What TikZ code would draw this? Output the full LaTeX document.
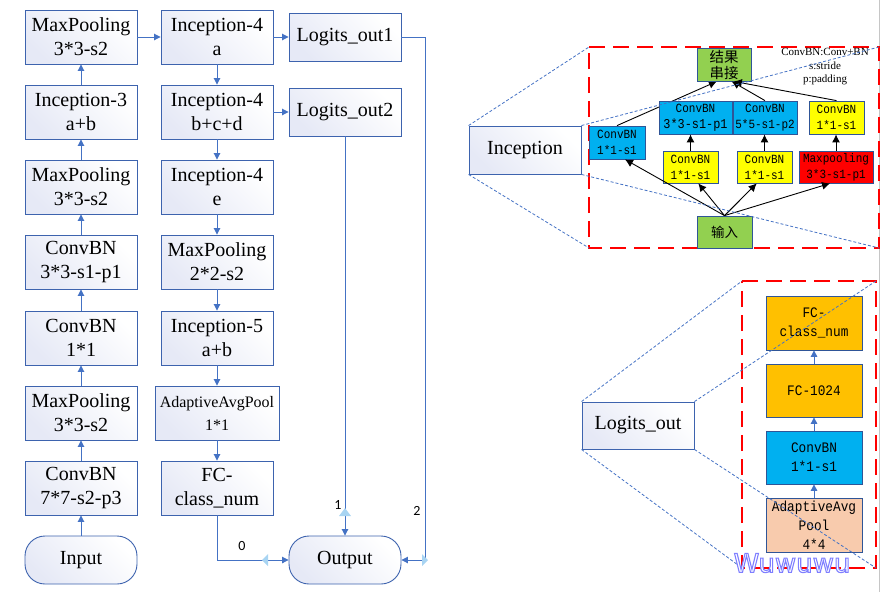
\documentclass[tikz,border=0pt]{standalone}
\usepackage{fontspec}
\setmainfont{Liberation Serif}
\newfontfamily\monof[FakeStretch=0.88]{Liberation Mono}
\newfontfamily\cjkf{Noto Sans CJK SC}
\newfontfamily\sansf{Carlito}
\newfontfamily\wmf{DejaVu Sans}
\usetikzlibrary{arrows.meta,calc}
\definecolor{lnblue}{HTML}{4472C4}
\definecolor{bdblue}{HTML}{2F5597}
\definecolor{mbblue}{HTML}{3D63AE}
\definecolor{gradb}{HTML}{E6E9F6}
\definecolor{cyanb}{HTML}{00B0F0}
\definecolor{yel}{HTML}{FFFF00}
\definecolor{grn}{HTML}{92D050}
\definecolor{org}{HTML}{FFC000}
\definecolor{peach}{HTML}{F8CBAD}
\definecolor{handle}{HTML}{A8D4F2}
\definecolor{wmc}{HTML}{7F7FFF}
\pgfdeclarelayer{bg}
\pgfsetlayers{bg,main}
\tikzset{
  box/.style={draw=mbblue, line width=0.9pt, top color=white, bottom color=gradb, shading angle=-45,
    minimum width=112pt, minimum height=54pt, inner sep=0pt, align=center,
    font=\fontsize{20}{24}\selectfont},
  rbox/.style={box, minimum height=48pt, rounded corners=20pt},
  arr/.style={draw=lnblue, line width=0.9pt, -{Triangle[length=6.5pt,width=6.5pt]}},
  barr/.style={draw=black, line width=0.9pt, -{Latex[length=8pt,width=8pt]}},
  mbox/.style={draw=bdblue, line width=0.8pt, inner sep=0pt, align=center,
    font=\monof\fontsize{12.5}{16}\selectfont},
  lbox/.style={draw=bdblue, line width=0.8pt, minimum width=96pt, inner sep=0pt, align=center,
    font=\monof\fontsize{14.5}{19}\selectfont},
  reddash/.style={draw=red, line width=2.8pt, dash pattern=on 16pt off 8pt},
  zoomdash/.style={draw=lnblue, line width=0.8pt, dash pattern=on 3pt off 2pt},
  lbl/.style={font=\sansf\fontsize{14}{14}\selectfont, inner sep=0pt},
}
\begin{document}
\begin{tikzpicture}[x=1pt,y=-1pt]
\useasboundingbox (0,0) rectangle (882,592);
% page edge line and red dashed frames
\coordinate (gtop) at (879.5,0);
\coordinate (gbot) at (879.5,592);
\coordinate (ia) at (589,47);
\coordinate (ib) at (879,47);
\coordinate (ic) at (879,248);
\coordinate (id) at (589,248);
\coordinate (la) at (742,281);
\coordinate (lb) at (876,281);
\coordinate (lc) at (876,568);
\coordinate (ld) at (742,568);
\begin{pgfonlayer}{bg}
\draw[gray!45, line width=1.5pt] (gtop) -- (gbot);
\draw[reddash] (ia) -- (ib) -- (ic) -- (id) -- cycle;
\draw[reddash] (la) -- (lb) -- (lc) -- (ld) -- cycle;
\end{pgfonlayer}

% column 1
\node[box] (mp1) at (81,37) {MaxPooling\\3*3-s2};
\node[box] (inc3) at (81,112) {Inception-3\\a+b};
\node[box] (mp2) at (81,187) {MaxPooling\\3*3-s2};
\node[box] (cbn3) at (81,262) {ConvBN\\3*3-s1-p1};
\node[box] (cbn1) at (81,338) {ConvBN\\1*1};
\node[box] (mp3) at (81,413) {MaxPooling\\3*3-s2};
\node[box] (cbn7) at (81,488) {ConvBN\\7*7-s2-p3};
\node[rbox] (input) at (81,560) {Input};
% column 2
\node[box] (i4a) at (217,37) {Inception-4\\a};
\node[box] (i4b) at (217,112) {Inception-4\\b+c+d};
\node[box] (i4e) at (217,187) {Inception-4\\e};
\node[box] (mp4) at (217,262) {MaxPooling\\2*2-s2};
\node[box] (i5) at (217,338) {Inception-5\\a+b};
\node[box, minimum width=124pt, font=\fontsize{16}{23}\selectfont] (aap) at (217,413) {AdaptiveAvgPool\\1*1};
\node[box] (fc) at (217,488) {FC-\\class\_num};
% column 3
\node[box, minimum height=48pt] (lo1) at (345,37) {Logits\_out1};
\node[box, minimum height=48pt] (lo2) at (345,112) {Logits\_out2};
\node[rbox] (output) at (345,560) {Output};

% arrows col1
\draw[arr] (input) -- (cbn7);
\draw[arr] (cbn7) -- (mp3);
\draw[arr] (mp3) -- (cbn1);
\draw[arr] (cbn1) -- (cbn3);
\draw[arr] (cbn3) -- (mp2);
\draw[arr] (mp2) -- (inc3);
\draw[arr] (inc3) -- (mp1);
\draw[arr] (mp1) -- (i4a);
% col2
\draw[arr] (i4a) -- (i4b);
\draw[arr] (i4b) -- (i4e);
\draw[arr] (i4e) -- (mp4);
\draw[arr] (mp4) -- (i5);
\draw[arr] (i5) -- (aap);
\draw[arr] (aap) -- (fc);
\draw[arr] (i4a) -- (lo1);
\draw[arr] (i4b) -- (lo2);
% to output
\coordinate (c2) at (425,560);
\draw[arr] (lo1.east) -| (c2) -- (output.east);
\draw[arr] (lo2.south) -- (output.north);
\draw[arr] (fc.south) |- (output.west);
\node[lbl] (l0) at (242,546) {0};
\node[lbl] (l1) at (338,505) {1};
\node[lbl] (l2) at (417,511) {2};
% glue handles
\fill[handle] (339,516) -- (351,516) -- (345,508) -- cycle;
\fill[handle] (268,554) -- (268,566) -- (262,560) -- cycle;
\fill[handle] (422,554) -- (422,566) -- (428,560) -- cycle;

% Inception detail
\node[box, minimum height=48pt] (incep) at (525,150) {Inception};
\node[mbox, fill=grn, minimum width=54pt, minimum height=33pt, font=\cjkf\fontsize{14.5}{16}\selectfont] (concat) at (724,64.5) {结果\\串接};
\node[mbox, fill=cyanb, minimum width=56pt, minimum height=33pt] (b1) at (617,142.5) {ConvBN\\1*1-s1};
\node[mbox, fill=cyanb, minimum width=73pt, minimum height=33pt] (b3) at (695.5,117.5) {ConvBN\\{\fontsize{13.5}{16}\selectfont 3*3-s1-p1}};
\node[mbox, fill=cyanb, minimum width=64pt, minimum height=33pt] (b5) at (765,117.5) {ConvBN\\5*5-s1-p2};
\node[mbox, fill=yel, minimum width=55pt, minimum height=33pt] (y4) at (836.5,117.5) {ConvBN\\1*1-s1};
\node[mbox, fill=yel, minimum width=55pt, minimum height=32pt] (y2) at (690.5,167) {ConvBN\\1*1-s1};
\node[mbox, fill=yel, minimum width=55pt, minimum height=32pt] (y3) at (764.5,167) {ConvBN\\1*1-s1};
\node[mbox, fill=red, minimum width=74pt, minimum height=32pt] (mpr) at (836,167) {Maxpooling\\3*3-s1-p1};
\node[mbox, fill=grn, minimum width=55pt, minimum height=32pt, font=\cjkf\fontsize{13.5}{16}\selectfont] (inp) at (724.5,232) {输入};
\node[font=\fontsize{11}{13.5}\selectfont, align=center, inner sep=0pt] (note) at (825,67) {ConvBN:Conv+BN\\s:stride\\p:padding};

\begin{pgfonlayer}{bg}
\draw[barr] (b1.north) -- ($(concat.south west)!0.37!(concat.south east)$);
\end{pgfonlayer}
\draw[barr] (b5.north) -- ($(concat.south west)!0.64!(concat.south east)$);
\draw[barr] (y4.north) -- ($(concat.south west)!0.68!(concat.south east)$);
\draw[barr] (inp.north) -- ($(b1.south west)!0.64!(b1.south east)$);
\draw[barr] (inp.north) -- ($(y2.south west)!0.64!(y2.south east)$);
\draw[barr] (inp.north) -- ($(y3.south west)!0.36!(y3.south east)$);
\draw[barr] (inp.north) -- ($(mpr.south west)!0.42!(mpr.south east)$);
\draw[barr] (y2.north) -- (y2.north |- b3.south);
\draw[barr] (y3.north) -- (y3.north |- b5.south);
\draw[barr] (mpr.north) -- (mpr.north |- y4.south);

% Logits detail
\node[box, minimum height=47pt] (lout) at (638,425.5) {Logits\_out};
\node[lbox, fill=org, minimum height=54pt] (lfc) at (814,323) {FC-\\class\_num};
\node[lbox, fill=org, minimum height=53pt] (lfc2) at (814,390.5) {FC-1024};
\node[lbox, fill=cyanb, minimum height=53pt] (lcbn) at (814,457.5) {ConvBN\\1*1-s1};
\node[lbox, fill=peach, minimum height=54pt] (laap) at (814,525) {AdaptiveAvg\\Pool\\4*4};
\draw[arr] (laap) -- (lcbn);
\draw[arr] (lcbn) -- (lfc2);
\draw[arr] (lfc2) -- (lfc);

% zoom lines
\draw[zoomdash] (incep.north west) -- (ia);
\draw[zoomdash] (incep.south west) -- (id);
\draw[zoomdash] (incep.north east) -- (ib);
\draw[zoomdash] (incep.south east) -- (ic);
\draw[zoomdash] (lout.north west) -- (la);
\draw[zoomdash] (lout.south west) -- (ld);
\draw[zoomdash] (lout.north east) -- (lb);
\draw[zoomdash] (lout.south east) -- (lc);

% watermark (outlined text)
\node[text=wmc, font=\wmf\fontsize{26}{26}\selectfont, inner sep=0pt] (wm) at (792,563)
  {\special{pdf:literal 1 1 1 rg 2 Tr 1.1 w}Wuwuwu\special{pdf:literal 0 Tr}};
\end{tikzpicture}
\end{document}
